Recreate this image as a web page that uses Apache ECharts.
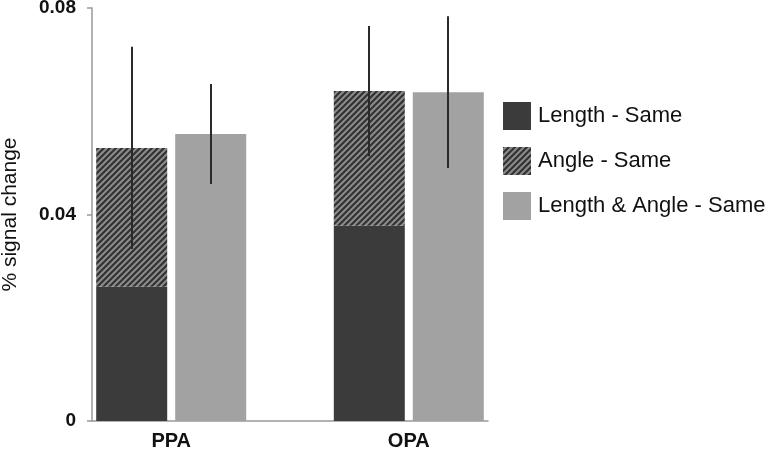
<!DOCTYPE html>
<html>
<head>
<meta charset="utf-8">
<script src="https://cdn.jsdelivr.net/npm/echarts@6/dist/echarts.min.js"></script>
<style>html,body{margin:0;padding:0;background:#fff}#c{width:773px;height:450px}</style>
</head>
<body>
<div id="c"></div>
<script>
// ---- data ----
var categories = ['PPA', 'OPA'];
var seriesNames = ['Length - Same', 'Angle - Same', 'Length & Angle - Same'];
var lengthSame = [0.026, 0.0378];
var angleSameIncrement = [0.0269, 0.0261];   // stacked on top of Length - Same
var lengthAngleSame = [0.0556, 0.0637];
var stackedErr = [0.0196, 0.0126];           // error of stacked column (Angle - Same total)
var lightErr = [0.0097, 0.0147];             // error of Length & Angle - Same
var yTicks = [0, 0.04, 0.08];

// ---- layout ----
// x axis is split into evenly spaced slots; each group sits on one slot with spacer slots around it
var slotOf = [1, 4], slotCount = 6;
var BAR_W = 71, BAR_GAP_PX = 8;
var FONT = '"Liberation Sans", Arial, sans-serif';

var axisCats = [];
for (var k = 0; k < slotCount; k++) { axisCats.push(''); }
categories.forEach(function (c, i) { axisCats[slotOf[i]] = c; });
function spread(arr) {
  var out = axisCats.map(function () { return null; });
  arr.forEach(function (v, i) { out[slotOf[i]] = v; });
  return out;
}

function hatch() {
  var s = 6, c = document.createElement('canvas');
  c.width = s; c.height = s;
  var g = c.getContext('2d');
  g.fillStyle = '#8c8c8c'; g.fillRect(0, 0, s, s);
  g.strokeStyle = '#323232'; g.lineWidth = 2.2;
  g.beginPath();
  g.moveTo(-1, s + 1); g.lineTo(s + 1, -1);
  g.moveTo(-2, 2); g.lineTo(2, -2);
  g.moveTo(s - 2, s + 2); g.lineTo(s + 2, s - 2);
  g.stroke();
  return c;
}
var hatchFill = { image: hatch(), repeat: 'repeat' };

var total = lengthSame.map(function (v, i) { return v + angleSameIncrement[i]; });
var errData = [];
categories.forEach(function (c, i) {
  errData.push([slotOf[i], total[i] - stackedErr[i], total[i] + stackedErr[i], -1]);
  errData.push([slotOf[i], lengthAngleSame[i] - lightErr[i], lengthAngleSame[i] + lightErr[i], 1]);
});

var gapPct = (BAR_GAP_PX / BAR_W * 100) + '%';
var chart = echarts.init(document.getElementById('c'), null, { renderer: 'canvas' });
chart.setOption({
  animation: false,
  backgroundColor: '#fff',
  grid: { left: 92, right: 285, top: 8, bottom: 29, containLabel: false, outerBoundsMode: 'none' },
  legend: {
    data: seriesNames,
    orient: 'vertical', left: 498, top: 97,
    itemWidth: 28, itemHeight: 28, itemGap: 17,
    icon: 'rect',
    textStyle: { fontFamily: FONT, fontSize: 22, color: '#111', padding: [0, 0, 0, 2] }
  },
  xAxis: {
    type: 'category', data: axisCats, boundaryGap: false,
    axisLine: { show: true, lineStyle: { color: '#999', width: 1.5 } },
    axisTick: { show: false },
    splitLine: { show: false },
    axisLabel: { interval: 0, margin: 10, fontFamily: FONT, fontSize: 20, fontWeight: 'bold', color: '#111' }
  },
  yAxis: {
    type: 'value', min: yTicks[0], max: yTicks[yTicks.length - 1], interval: yTicks[1] - yTicks[0],
    name: '% signal change', nameLocation: 'middle', nameGap: 71,
    nameTextStyle: { fontFamily: FONT, fontSize: 21, color: '#111' },
    axisLine: { show: true, lineStyle: { color: '#999', width: 1.5 } },
    axisTick: { show: true, inside: false, length: 5, lineStyle: { color: '#999', width: 1.5 } },
    splitLine: { show: false },
    axisLabel: { margin: 16, fontFamily: FONT, fontSize: 19, fontWeight: 'bold', color: '#111' }
  },
  series: [
    { name: seriesNames[0], type: 'bar', stack: 'a', barWidth: BAR_W, barGap: gapPct,
      itemStyle: { color: '#3b3b3b' }, data: spread(lengthSame) },
    { name: seriesNames[1], type: 'bar', stack: 'a', barWidth: BAR_W, barGap: gapPct,
      itemStyle: { color: hatchFill }, data: spread(angleSameIncrement) },
    { name: seriesNames[2], type: 'bar', barWidth: BAR_W, barGap: gapPct,
      itemStyle: { color: '#a2a2a2' }, data: spread(lengthAngleSame) },
    { name: 'err', type: 'custom', z: 10, silent: true,
      data: errData,
      renderItem: function (params, api) {
        var off = api.value(3) * (BAR_W + BAR_GAP_PX) / 2;
        var lo = api.coord([api.value(0), api.value(1)]);
        var hi = api.coord([api.value(0), api.value(2)]);
        var x = Math.round(lo[0] + off);
        return { type: 'line', shape: { x1: x, y1: lo[1], x2: x, y2: hi[1] },
          style: { stroke: '#2a2a2a', lineWidth: 2 } };
      }
    }
  ]
});
</script>
</body>
</html>
